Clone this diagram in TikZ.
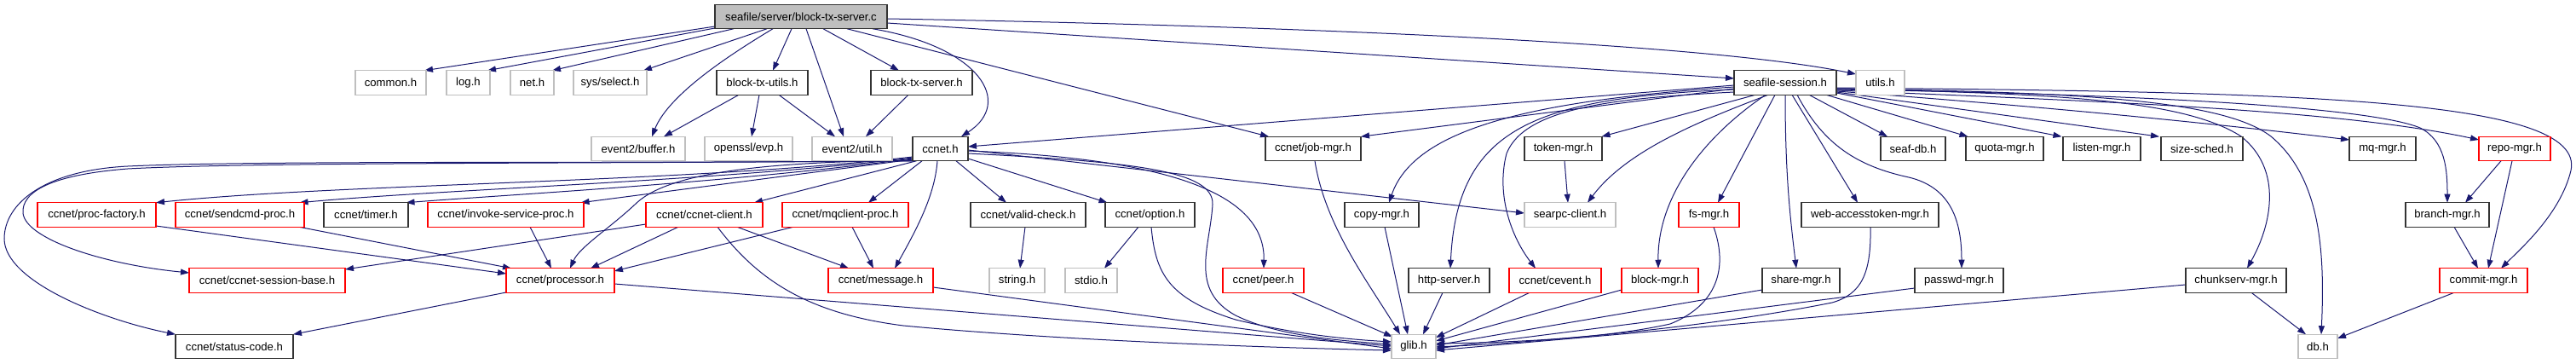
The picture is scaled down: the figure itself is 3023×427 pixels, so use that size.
\documentclass[tikz,border=0pt]{standalone}
\usepackage{fontspec}
\setmainfont{Liberation Sans}
\usetikzlibrary{arrows.meta,calc}
\definecolor{edgec}{HTML}{191970}
\definecolor{grayb}{HTML}{BFBFBF}
\definecolor{redb}{HTML}{FF0000}
\pgfdeclarelayer{bglayer}
\pgfdeclarelayer{edgelayer}
\pgfsetlayers{bglayer,edgelayer,main}
\begin{document}
\begin{tikzpicture}[x=1pt,y=-1pt,
  nbox/.style={rectangle,inner sep=0pt,minimum height=28.5pt,fill=white,line width=1.1pt,font=\fontsize{13.15pt}{15pt}\selectfont,text=black},
  blk/.style={nbox,draw=black!80},
  gry/.style={nbox,draw=grayb},
  rdb/.style={nbox,draw=redb},
  rootb/.style={nbox,draw=black!80,fill=grayb},
  dep/.style={draw=edgec,line width=1pt,-{Triangle[length=10pt,width=7pt]}}]
\begin{pgfonlayer}{bglayer}
\fill[white] (0,0) rectangle (3023,427);
\end{pgfonlayer}
\useasboundingbox (0,0) rectangle (3023,427);
% row 0
\node[rootb,minimum width=202pt] (root) at (940,19.5) {seafile/server/block-tx-server.c};
% row 1
\node[gry,minimum width=83pt] (common) at (458.5,97) {common.h};
\node[gry,minimum width=51pt] (log) at (549.5,97) {log.h};
\node[gry,minimum width=51pt] (net) at (624.5,97) {net.h};
\node[gry,minimum width=86pt] (sysselect) at (716,97) {sys/select.h};
\node[blk,minimum width=107pt] (btutils) at (894.5,97) {block-tx-utils.h};
\node[blk,minimum width=119pt] (btserver) at (1081.5,97) {block-tx-server.h};
\node[blk,minimum width=120pt] (session) at (2095,97) {seafile-session.h};
\node[gry,minimum width=57pt] (utils) at (2206.5,97) {utils.h};
% row 2
\node[gry,minimum width=110pt] (buffer) at (749,174.5) {event2/buffer.h};
\node[gry,minimum width=103pt] (evp) at (878.5,174.5) {openssl/evp.h};
\node[gry,minimum width=94pt] (util) at (1000,174.5) {event2/util.h};
\node[blk,minimum width=65pt] (ccnet) at (1103.5,174.5) {ccnet.h};
\node[blk,minimum width=112pt] (jobmgr) at (1541,174.5) {ccnet/job-mgr.h};
\node[blk,minimum width=91pt] (token) at (1834.5,174.5) {token-mgr.h};
\node[blk,minimum width=76pt] (seafdb) at (2245,174.5) {seaf-db.h};
\node[blk,minimum width=91pt] (quota) at (2352.5,174.5) {quota-mgr.h};
\node[blk,minimum width=91pt] (listen) at (2466.5,174.5) {listen-mgr.h};
\node[blk,minimum width=96pt] (sizesched) at (2584,174.5) {size-sched.h};
\node[blk,minimum width=78pt] (mqmgr) at (2796,174.5) {mq-mgr.h};
\node[rdb,minimum width=84pt] (repo) at (2951,174.5) {repo-mgr.h};
% row 3
\node[rdb,minimum width=139pt] (procfactory) at (113.5,252) {ccnet/proc-factory.h};
\node[rdb,minimum width=151pt] (sendcmd) at (281.5,252) {ccnet/sendcmd-proc.h};
\node[blk,minimum width=99pt] (timer) at (429.5,252) {ccnet/timer.h};
\node[rdb,minimum width=183pt] (invoke) at (593.5,252) {ccnet/invoke-service-proc.h};
\node[rdb,minimum width=137pt] (cclient) at (826.5,252) {ccnet/ccnet-client.h};
\node[rdb,minimum width=148pt] (mqclient) at (992,252) {ccnet/mqclient-proc.h};
\node[blk,minimum width=135pt] (validcheck) at (1206.5,252) {ccnet/valid-check.h};
\node[blk,minimum width=105pt] (option) at (1349.5,252) {ccnet/option.h};
\node[blk,minimum width=87pt] (copymgr) at (1621.5,252) {copy-mgr.h};
\node[gry,minimum width=107pt] (searpc) at (1842.5,252) {searpc-client.h};
\node[rdb,minimum width=71pt] (fsmgr) at (2005.5,252) {fs-mgr.h};
\node[blk,minimum width=161pt] (webaccess) at (2194.5,252) {web-accesstoken-mgr.h};
\node[blk,minimum width=98pt] (branch) at (2872,252) {branch-mgr.h};
% row 4
\node[rdb,minimum width=183pt] (sessionbase) at (313.5,329) {ccnet/ccnet-session-base.h};
\node[rdb,minimum width=127pt] (processor) at (657.5,329) {ccnet/processor.h};
\node[rdb,minimum width=123pt] (message) at (1033.5,329) {ccnet/message.h};
\node[gry,minimum width=65pt] (stringh) at (1193.5,329) {string.h};
\node[gry,minimum width=61pt] (stdio) at (1280.5,329) {stdio.h};
\node[rdb,minimum width=95pt] (peer) at (1482.5,329) {ccnet/peer.h};
\node[blk,minimum width=95pt] (http) at (1700.5,329) {http-server.h};
\node[rdb,minimum width=108pt] (cevent) at (1825,329) {ccnet/cevent.h};
\node[rdb,minimum width=90pt] (blockmgr) at (1948,329) {block-mgr.h};
\node[blk,minimum width=91pt] (share) at (2113.5,329) {share-mgr.h};
\node[blk,minimum width=104pt] (passwd) at (2299,329) {passwd-mgr.h};
\node[blk,minimum width=118pt] (chunkserv) at (2624,329) {chunkserv-mgr.h};
\node[rdb,minimum width=103pt] (commit) at (2914.5,329) {commit-mgr.h};
% row 5
\node[blk,minimum width=138pt] (statuscode) at (275,406.5) {ccnet/status-code.h};
\node[gry,minimum width=52pt] (glib) at (1659,406.5) {glib.h};
\node[gry,minimum width=46pt] (db) at (2720,406.5) {db.h};

\begin{pgfonlayer}{edgelayer}
% root
\draw[dep] ($(root)+(-101,11.5)$) -- ($(common)+(39.5,-14.25)$);
\draw[dep] ($(root)+(-101,13.5)$) -- ($(log)+(22.5,-14.25)$);
\draw[dep] ($(root)+(-79,14.25)$) -- ($(net)+(23.5,-14.25)$);
\draw[dep] ($(root)+(-40,14.25)$) -- ($(sysselect)+(39,-14.25)$);
\draw[dep] ($(root)+(-33,14.25)$) .. controls (860,62) and (785,110) .. ($(buffer)+(16,-14.25)$);
\draw[dep] ($(root)+(-11,14.25)$) -- ($(btutils)+(12.5,-14.25)$);
\draw[dep] ($(root)+(6,14.25)$) -- ($(util)+(-10,-14.25)$);
\draw[dep] ($(root)+(26,14.25)$) -- ($(btserver)+(-26.5,-14.25)$);
\draw[dep] ($(root)+(84,14.25)$) .. controls (1150,55) and (1190,120) .. ($(ccnet)+(24.5,-14.25)$);
\draw[dep] ($(root)+(54,14.25)$) -- ($(jobmgr)+(-52,-14.25)$);
\draw[dep] ($(root)+(101,7.5)$) -- ($(session)+(-60,-5)$);
\draw[dep] ($(root)+(101,2.5)$) .. controls (1500,30) and (2000,50) .. ($(utils)+(-28.5,-10)$);
% block-tx-utils / block-tx-server
\draw[dep] ($(btutils)+(-27.5,14.25)$) -- ($(buffer)+(30,-14.25)$);
\draw[dep] ($(btutils)+(-3.5,14.25)$) -- ($(evp)+(3.5,-14.25)$);
\draw[dep] ($(btutils)+(19.5,14.25)$) -- ($(util)+(-20,-14.25)$);
\draw[dep] ($(btserver)+(-15.5,14.25)$) -- ($(util)+(16,-14.25)$);
% ccnet.h
\draw[dep] ($(ccnet)+(-32.5,9.5)$) .. controls (800,215) and (400,215) .. ($(procfactory)+(69.5,-14.25)$);
\draw[dep] ($(ccnet)+(-32.5,10.5)$) .. controls (850,212) and (520,222) .. ($(sendcmd)+(70,-14.25)$);
\draw[dep] ($(ccnet)+(-32.5,11.5)$) .. controls (850,215) and (600,228) .. ($(timer)+(47,-14.25)$);
\draw[dep] ($(ccnet)+(-32.5,12.5)$) -- ($(invoke)+(88,-14.25)$);
\draw[dep] ($(ccnet)+(-30,14.25)$) .. controls (700,192) and (300,190) .. (150,198) .. controls (60,205) and (25,225) .. (27,250) .. controls (30,280) and (120,310) .. ($(sessionbase)+(-91.5,-9)$);
\draw[dep] ($(ccnet)+(-31,14.25)$) .. controls (700,192) and (300,188) .. (150,195) .. controls (50,200) and (5,240) .. (5,280) .. controls (5,330) and (120,375) .. ($(statuscode)+(-69,-14.25)$);
\draw[dep] ($(ccnet)+(-32.5,13.5)$) .. controls (880,190) and (780,205) .. (745,240) .. controls (715,268) and (680,290) .. ($(processor)+(11.5,-14.25)$);
\draw[dep] ($(ccnet)+(-28,14.25)$) -- ($(cclient)+(58.5,-14.25)$);
\draw[dep] ($(ccnet)+(-21.5,14.25)$) -- ($(mqclient)+(27,-14.25)$);
\draw[dep] ($(ccnet)+(-3.5,14.25)$) .. controls (1097,230) and (1075,270) .. ($(message)+(16.5,-14.25)$);
\draw[dep] ($(ccnet)+(18.5,14.25)$) -- ($(validcheck)+(-25.5,-14.25)$);
\draw[dep] ($(ccnet)+(32.5,11.5)$) -- ($(option)+(-50,-14.25)$);
\draw[dep] ($(ccnet)+(32.5,1.5)$) -- ($(searpc)+(-53.5,-2)$);
\draw[dep] ($(ccnet)+(32.5,2.5)$) .. controls (1350,185) and (1485,220) .. ($(peer)+(0.5,-14.25)$);
\draw[dep] ($(ccnet)+(32.5,5.5)$) .. controls (1330,190) and (1425,200) .. (1423,240) .. controls (1420,290) and (1395,340) .. (1450,370) .. controls (1500,395) and (1580,400) .. ($(glib)+(-26,-2.5)$);
% ccnet sub-headers
\draw[dep] ($(cclient)+(-68.5,11)$) -- ($(sessionbase)+(91.5,-13)$);
\draw[dep] ($(cclient)+(-30.5,14.25)$) -- ($(processor)+(35.5,-14.25)$);
\draw[dep] ($(cclient)+(38.5,14.25)$) -- ($(message)+(-37.5,-14.25)$);
\draw[dep] ($(cclient)+(15.5,14.25)$) .. controls (890,330) and (950,368) .. (1060,382) .. controls (1250,400) and (1500,408) .. ($(glib)+(-26,4.5)$);
\draw[dep] ($(mqclient)+(-61,14.25)$) -- ($(processor)+(63.5,-11)$);
\draw[dep] ($(mqclient)+(8,14.25)$) -- ($(message)+(-8.5,-14.25)$);
\draw[dep] ($(invoke)+(28.5,14.25)$) -- ($(processor)+(-10.5,-14.25)$);
\draw[dep] ($(sendcmd)+(69.5,14.25)$) -- ($(processor)+(-57.5,-14.25)$);
\draw[dep] ($(procfactory)+(69.5,13)$) -- ($(processor)+(-63.5,-8)$);
\draw[dep] ($(processor)+(-63.5,14)$) -- ($(statuscode)+(69,-14.25)$);
\draw[dep] ($(processor)+(63.5,4)$) -- ($(glib)+(-26,-0.5)$);
\draw[dep] ($(message)+(61.5,8)$) -- ($(glib)+(-26,2.5)$);
\draw[dep] ($(validcheck)+(-3.5,14.25)$) -- ($(stringh)+(3.5,-14.25)$);
\draw[dep] ($(option)+(-13.5,14.25)$) -- ($(stdio)+(15.5,-14.25)$);
\draw[dep] ($(option)+(1.5,14.25)$) .. controls (1356,320) and (1370,350) .. (1450,375) .. controls (1520,392) and (1580,398) .. ($(glib)+(-26,-5.5)$);
\draw[dep] ($(peer)+(32.5,14.25)$) -- ($(glib)+(-25,-11.5)$);
% into glib from seafile managers
\draw[dep] ($(jobmgr)+(2,14.25)$) .. controls (1555,265) and (1605,330) .. ($(glib)+(-16,-14.25)$);
\draw[dep] ($(copymgr)+(3.5,14.25)$) -- ($(glib)+(-7,-14.25)$);
\draw[dep] ($(http)+(-7.5,14.25)$) -- ($(glib)+(11,-14.25)$);
\draw[dep] ($(cevent)+(-30,14.25)$) -- ($(glib)+(26,-10.5)$);
\draw[dep] ($(blockmgr)+(-45,11)$) -- ($(glib)+(26,-6.5)$);
\draw[dep] ($(fsmgr)+(5.5,14.25)$) .. controls (2030,320) and (2010,360) .. (1960,380) .. controls (1880,398) and (1760,402) .. ($(glib)+(26,-3.5)$);
\draw[dep] ($(share)+(-45.5,11)$) -- ($(glib)+(26,-1.5)$);
\draw[dep] ($(webaccess)+(0.5,14.25)$) .. controls (2196,320) and (2185,345) .. (2150,355) .. controls (2000,385) and (1800,402) .. ($(glib)+(26,0.5)$);
\draw[dep] ($(passwd)+(-52,9)$) -- ($(glib)+(26,2.5)$);
\draw[dep] ($(chunkserv)+(-59,5)$) -- ($(glib)+(26,4.5)$);
% seafile-session.h
\draw[dep] ($(session)+(-60,3)$) -- ($(ccnet)+(32.5,-2.5)$);
\draw[dep] ($(session)+(-60,7)$) -- ($(jobmgr)+(56,-14.25)$);
\draw[dep] ($(session)+(-60,5)$) .. controls (1800,118) and (1660,150) .. ($(copymgr)+(8.5,-14.25)$);
\draw[dep] ($(session)+(-60,8)$) .. controls (1800,115) and (1710,150) .. ($(http)+(1.5,-14.25)$);
\draw[dep] ($(session)+(-60,11)$) .. controls (1900,115) and (1790,125) .. (1768,180) .. controls (1755,230) and (1775,280) .. ($(cevent)+(-23,-14.25)$);
\draw[dep] ($(session)+(-35,14.25)$) -- ($(token)+(45,-14.25)$);
\draw[dep] ($(session)+(-20,14.25)$) .. controls (2000,140) and (1910,175) .. ($(searpc)+(20.5,-14.25)$);
\draw[dep] ($(session)+(-23,14.25)$) .. controls (2000,160) and (1945,230) .. ($(blockmgr)+(-2,-14.25)$);
\draw[dep] ($(session)+(-12,14.25)$) -- ($(fsmgr)+(10.5,-14.25)$);
\draw[dep] ($(session)+(0,14.25)$) .. controls (2095,200) and (2100,250) .. ($(share)+(-5.5,-14.25)$);
\draw[dep] ($(session)+(8,14.25)$) -- ($(webaccess)+(-14.5,-14.25)$);
\draw[dep] ($(session)+(14,14.25)$) .. controls (2140,170) and (2180,195) .. (2240,208) .. controls (2290,220) and (2302,260) .. ($(passwd)+(3,-14.25)$);
\draw[dep] ($(session)+(28,14.25)$) -- ($(seafdb)+(-30,-14.25)$);
\draw[dep] ($(session)+(48,14.25)$) -- ($(quota)+(-43,-14.25)$);
\draw[dep] ($(session)+(60,12)$) -- ($(listen)+(-47,-14.25)$);
\draw[dep] ($(session)+(60,11)$) -- ($(sizesched)+(-50,-14.25)$);
\draw[dep] ($(session)+(60,10)$) .. controls (2400,125) and (2600,145) .. ($(mqmgr)+(-39,-10.5)$);
\draw[dep] ($(session)+(60,9)$) .. controls (2500,120) and (2750,130) .. ($(repo)+(-42,-10.5)$);
\draw[dep] ($(session)+(60,8)$) .. controls (2500,110) and (2780,125) .. (2840,150) .. controls (2870,165) and (2872,200) .. ($(branch)+(0,-14.25)$);
\draw[dep] ($(session)+(60,6)$) .. controls (2700,108) and (3035,115) .. (3017,200) .. controls (3005,250) and (2960,290) .. ($(commit)+(20.5,-14.25)$);
\draw[dep] ($(session)+(60,7)$) .. controls (2400,110) and (2560,115) .. (2630,160) .. controls (2680,200) and (2665,265) .. ($(chunkserv)+(13,-14.25)$);
\draw[dep] ($(session)+(60,7)$) .. controls (2450,108) and (2610,118) .. (2665,160) .. controls (2725,210) and (2728,300) .. ($(db)+(4,-14.25)$);
% remaining
\draw[dep] ($(token)+(1.5,14.25)$) -- ($(searpc)+(-2.5,-14.25)$);
\draw[dep] ($(repo)+(-16,14.25)$) -- ($(branch)+(21,-14.25)$);
\draw[dep] ($(repo)+(-3,14.25)$) -- ($(commit)+(5.5,-14.25)$);
\draw[dep] ($(branch)+(8,14.25)$) -- ($(commit)+(-6.5,-14.25)$);
\draw[dep] ($(commit)+(-34.5,14.25)$) -- ($(db)+(23,-9.5)$);
\draw[dep] ($(chunkserv)+(18,14.25)$) -- ($(db)+(-14,-14.25)$);
\end{pgfonlayer}
\end{tikzpicture}
\end{document}
